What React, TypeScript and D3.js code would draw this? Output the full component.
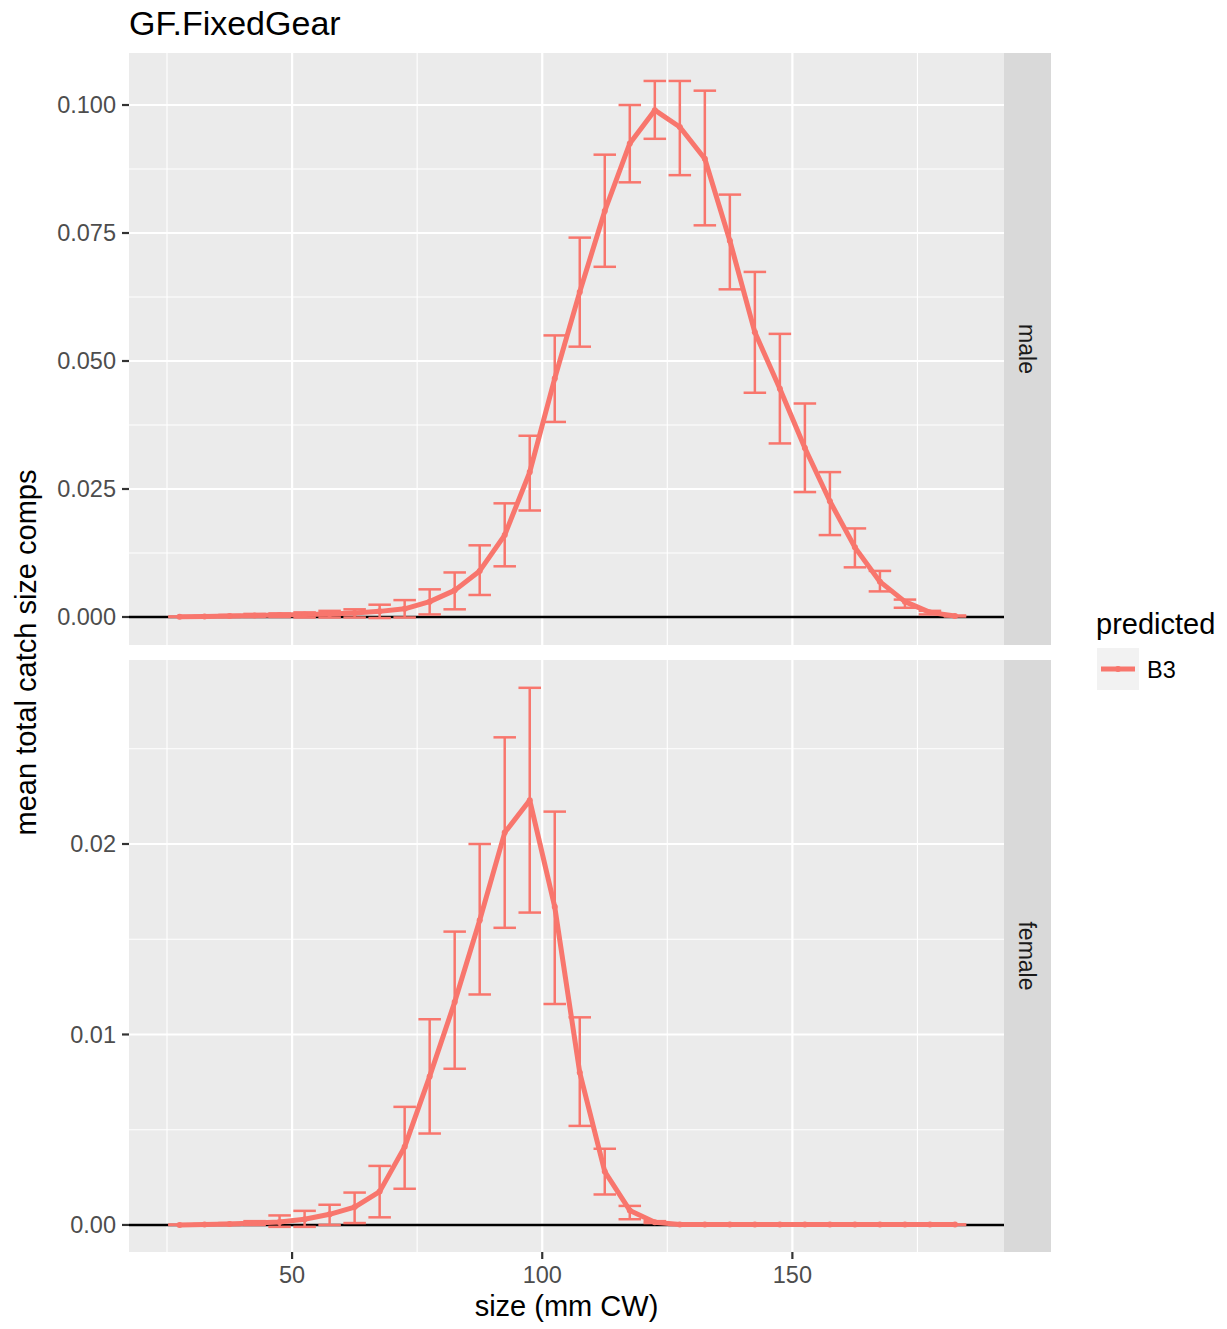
import React from "react";
import * as d3 from "d3";

const sizes = [27.5, 32.5, 37.5, 42.5, 47.5, 52.5, 57.5, 62.5, 67.5, 72.5, 77.5, 82.5, 87.5, 92.5, 97.5, 102.5, 107.5, 112.5, 117.5, 122.5, 127.5, 132.5, 137.5, 142.5, 147.5, 152.5, 157.5, 162.5, 167.5, 172.5, 177.5, 182.5];

const maleMean = [0.00005, 0.0001, 0.0002, 0.0003, 0.0004, 0.0005, 0.0006, 0.0008, 0.0011, 0.0016, 0.003, 0.0052, 0.009, 0.016, 0.0283, 0.0466, 0.0635, 0.0793, 0.0925, 0.099, 0.0957, 0.0895, 0.0735, 0.0556, 0.0446, 0.033, 0.0226, 0.0136, 0.0069, 0.003, 0.0009, 0.0002];
const maleUpper = [0.0001, 0.0002, 0.0004, 0.0006, 0.0007, 0.0009, 0.0012, 0.0015, 0.0024, 0.0033, 0.0054, 0.0087, 0.014, 0.0222, 0.0354, 0.055, 0.0741, 0.0903, 0.1, 0.1047, 0.1047, 0.1028, 0.0825, 0.0674, 0.0553, 0.0417, 0.0283, 0.0173, 0.009, 0.0034, 0.0012, 0.0003];
const maleLower = [0, 0, 0, 0, 0, -0.0001, -0.0001, -0.0001, -0.0002, -0.0001, 0.0005, 0.0015, 0.0043, 0.0099, 0.0208, 0.0381, 0.0528, 0.0684, 0.0849, 0.0934, 0.0863, 0.0765, 0.064, 0.0438, 0.0339, 0.0244, 0.016, 0.0097, 0.005, 0.0018, 0.0005, 0.0001];

const femaleMean = [0, 0.00002, 0.00005, 0.0001, 0.00015, 0.0003, 0.00056, 0.00094, 0.00175, 0.0041, 0.0078, 0.0117, 0.016, 0.0206, 0.0223, 0.0167, 0.008, 0.0028, 0.00076, 0.00014, 0.00002, 0.00002, 0.00002, 0.00002, 0.00002, 0.00002, 0.00002, 0.00002, 0.00002, 0.00002, 0.00002, 0.00002];
const femaleUpper = [0.00002, 0.00005, 0.0001, 0.0002, 0.0005, 0.00074, 0.00106, 0.0017, 0.0031, 0.0062, 0.0108, 0.0154, 0.02, 0.0256, 0.0282, 0.0217, 0.0109, 0.004, 0.001, 0.0002, 0.00003, 0.00003, 0.00003, 0.00003, 0.00003, 0.00003, 0.00003, 0.00003, 0.00003, 0.00003, 0.00003, 0.00003];
const femaleLower = [0, 0, 0, 0, -0.0001, -0.0001, 0, 0.0001, 0.0004, 0.0019, 0.0048, 0.0082, 0.0121, 0.0156, 0.0164, 0.0116, 0.0052, 0.0016, 0.0003, 0.0001, 0, 0, 0, 0, 0, 0, 0, 0, 0, 0, 0, 0];

const xTicks = [50, 100, 150];
const xMinor = [25, 75, 125, 175];
const maleTicks = [0, 0.025, 0.05, 0.075, 0.1];
const maleTickLabels = ["0.000", "0.025", "0.050", "0.075", "0.100"];
const maleMinor = [0.0125, 0.0375, 0.0625, 0.0875];
const femaleTicks = [0, 0.01, 0.02];
const femaleTickLabels = ["0.00", "0.01", "0.02"];
const femaleMinor = [0.005, 0.015, 0.025];

const COLOR = "#F8766D";
const FONT = "'Liberation Sans', Arial, Helvetica, sans-serif";

const PL = 129, PR = 1004;
const x = d3.scaleLinear().domain([17.4, 192.3]).range([PL, PR]);

type PanelProps = {
  top: number; bottom: number; domain: [number, number];
  mean: number[]; upper: number[]; lower: number[];
  ticks: number[]; labels: string[]; minor: number[]; strip: string; showX: boolean;
};

function Panel(p: PanelProps) {
  const y = d3.scaleLinear().domain(p.domain).range([p.bottom, p.top]);
  const line = d3.line<number>().x((_, i) => x(sizes[i])).y((d) => y(d));
  const half = 2.25;
  return (
    <g>
      <rect x={PL} y={p.top} width={PR - PL} height={p.bottom - p.top} fill="#EBEBEB" />
      {p.minor.map((t) => (
        <line key={"ym" + t} x1={PL} x2={PR} y1={y(t)} y2={y(t)} stroke="#fff" strokeWidth={1.1} />
      ))}
      {xMinor.map((t) => (
        <line key={"xm" + t} x1={x(t)} x2={x(t)} y1={p.top} y2={p.bottom} stroke="#fff" strokeWidth={1.1} />
      ))}
      {p.ticks.map((t) => (
        <line key={"yM" + t} x1={PL} x2={PR} y1={y(t)} y2={y(t)} stroke="#fff" strokeWidth={2.2} />
      ))}
      {xTicks.map((t) => (
        <line key={"xM" + t} x1={x(t)} x2={x(t)} y1={p.top} y2={p.bottom} stroke="#fff" strokeWidth={2.2} />
      ))}
      <line x1={PL} x2={PR} y1={y(0)} y2={y(0)} stroke="#000" strokeWidth={2.6} />
      {sizes.map((s, i) => (
        <g key={"e" + s} stroke={COLOR} strokeWidth={2.5} fill="none">
          <line x1={x(s)} x2={x(s)} y1={y(p.upper[i])} y2={y(p.lower[i])} />
          <line x1={x(s - half)} x2={x(s + half)} y1={y(p.upper[i])} y2={y(p.upper[i])} />
          <line x1={x(s - half)} x2={x(s + half)} y1={y(p.lower[i])} y2={y(p.lower[i])} />
        </g>
      ))}
      <path d={line(p.mean) || ""} fill="none" stroke={COLOR} strokeWidth={5} strokeLinejoin="round" />
      {sizes.map((s, i) => (
        <circle key={"p" + s} cx={x(s)} cy={y(p.mean[i])} r={3} fill={COLOR} />
      ))}
      {p.ticks.map((t, i) => (
        <g key={"yt" + t}>
          <line x1={PL - 7} x2={PL} y1={y(t)} y2={y(t)} stroke="#333" strokeWidth={2.2} />
          <text x={PL - 13} y={y(t)} dy="0.35em" textAnchor="end" fontSize={23.5} fill="#4D4D4D" fontFamily={FONT}>
            {p.labels[i]}
          </text>
        </g>
      ))}
      <rect x={PR} y={p.top} width={47} height={p.bottom - p.top} fill="#D9D9D9" />
      <text
        transform={`translate(${PR + 23.5},${(p.top + p.bottom) / 2}) rotate(90)`}
        textAnchor="middle" dy="0.35em" fontSize={23} fill="#1A1A1A" fontFamily={FONT}
      >
        {p.strip}
      </text>
      {p.showX && xTicks.map((t) => (
        <g key={"xt" + t}>
          <line x1={x(t)} x2={x(t)} y1={p.bottom} y2={p.bottom + 7} stroke="#333" strokeWidth={2.2} />
          <text x={x(t)} y={p.bottom + 31} textAnchor="middle" fontSize={23.5} fill="#4D4D4D" fontFamily={FONT}>
            {t}
          </text>
        </g>
      ))}
    </g>
  );
}

export default function App() {
  return (
    <svg width={1227} height={1329} style={{ position: "absolute", left: 0, top: 0, background: "#fff" }}>
      <rect width={1227} height={1329} fill="#fff" />
      <text x={129} y={35} fontSize={34} fill="#000" fontFamily={FONT}>GF.FixedGear</text>
      <Panel top={53} bottom={645} domain={[-0.00547, 0.11016]} mean={maleMean} upper={maleUpper} lower={maleLower}
        ticks={maleTicks} labels={maleTickLabels} minor={maleMinor} strip="male" showX={false} />
      <Panel top={660} bottom={1252} domain={[-0.00142, 0.02966]} mean={femaleMean} upper={femaleUpper} lower={femaleLower}
        ticks={femaleTicks} labels={femaleTickLabels} minor={femaleMinor} strip="female" showX={true} />
      <text x={(PL + PR) / 2} y={1316} textAnchor="middle" fontSize={29} fill="#000" fontFamily={FONT}>size (mm CW)</text>
      <text transform={`translate(36,652.5) rotate(-90)`} textAnchor="middle" fontSize={29} fill="#000" fontFamily={FONT}>
        mean total catch size comps
      </text>
      <text x={1096} y={634} fontSize={29} fill="#000" fontFamily={FONT}>predicted</text>
      <rect x={1097} y={648} width={42} height={42} fill="#F2F2F2" />
      <line x1={1101} x2={1135} y1={669} y2={669} stroke={COLOR} strokeWidth={5} />
      <circle cx={1118} cy={669} r={3} fill={COLOR} />
      <text x={1147} y={678} fontSize={23.5} fill="#000" fontFamily={FONT}>B3</text>
    </svg>
  );
}
